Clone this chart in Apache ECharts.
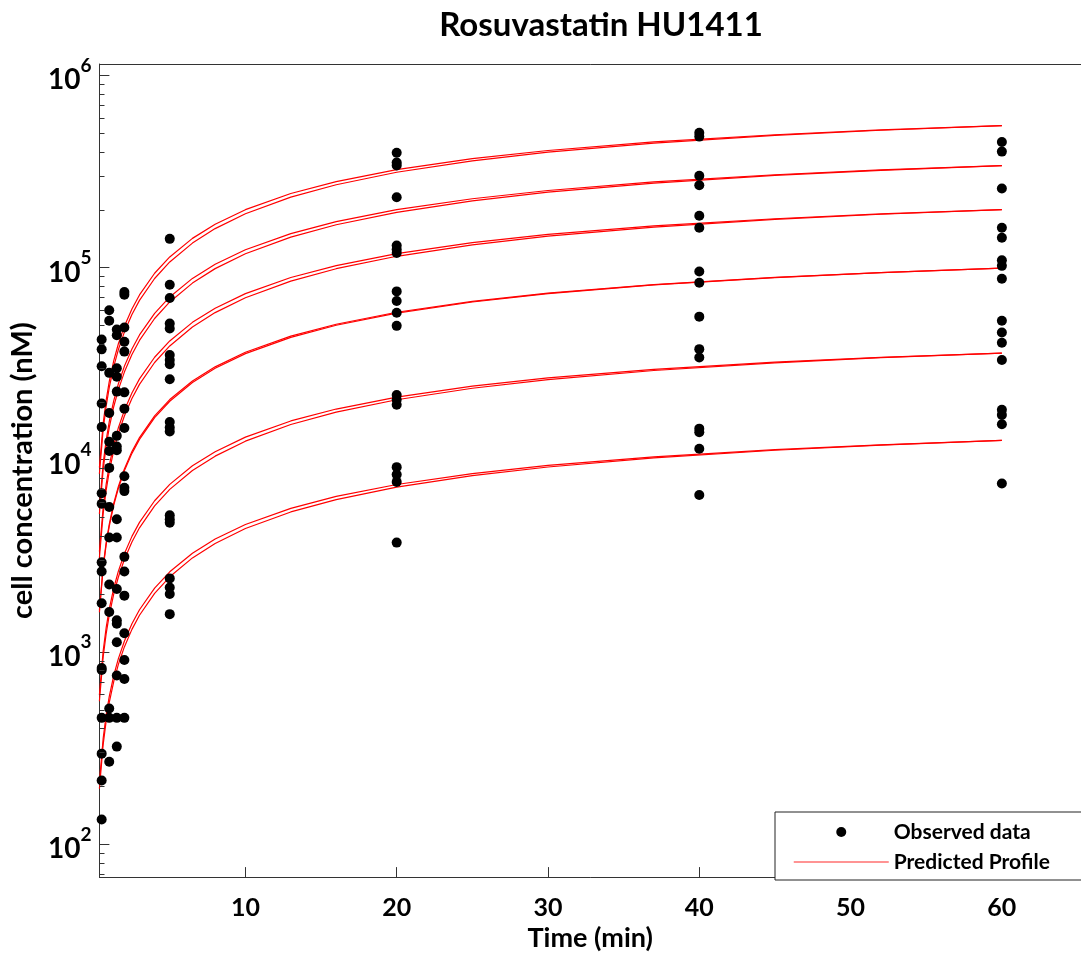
<!DOCTYPE html>
<html>
<head>
<meta charset="utf-8">
<title>Rosuvastatin HU1411</title>
<script src="https://cdn.jsdelivr.net/npm/echarts@6/dist/echarts.min.js"></script>
<style>
  html, body { margin: 0; padding: 0; background: #fff; }
  #chart { width: 1081px; height: 957px; }
</style>
</head>
<body>
<div id="chart"></div>
<script>
// Sampling times (min) of the observed cell concentrations
const obsTimes = [0.5, 1, 1.5, 2, 5, 20, 40, 60];

// Observed cell concentration (nM) at each sampling time
const obs05 = [42200, 37500, 30600, 19600, 14800, 6680, 5900, 2920, 2620, 1790, 824, 804, 453, 295, 214, 134];
const obs1  = [59900, 52800, 28300, 17500, 12400, 11100, 9060, 5670, 3930, 2240, 1610, 507, 453, 268];
const obs15 = [47600, 44400, 29900, 27000, 22600, 13300, 11700, 11200, 4900, 3930, 2120, 1460, 1400, 1120, 753, 453, 321];
const obs2  = [74600, 72200, 48700, 41100, 36500, 22400, 18400, 14600, 8200, 7140, 6860, 3120, 2620, 1960, 1250, 906, 722, 453];
const obs5  = [141000, 81300, 69400, 51100, 48100, 35000, 33000, 31400, 26200, 15700, 14700, 14000, 5130, 4890, 4700, 2410, 2160, 2000, 1570];
const obs20 = [396000, 352000, 340000, 232000, 130000, 124000, 119000, 75100, 67000, 58200, 49700, 21700, 20500, 19300, 9140, 8360, 7660, 3700];
const obs40 = [503000, 480000, 300000, 268000, 186000, 161000, 95300, 83300, 55500, 37600, 34000, 14500, 13900, 11400, 6540];
const obs60 = [450000, 401000, 258000, 161000, 143000, 109000, 102000, 87400, 52800, 45900, 40600, 33000, 18200, 17100, 15300, 7510];

// Time grid of the predicted profiles (min)
const profileTimes = [0.35, 0.6, 0.8, 1, 1.3, 1.6, 2, 2.5, 3, 4, 5, 6.5, 8, 10, 13, 16, 20, 25, 30, 37, 45, 52, 60];

// Predicted profiles, two runs per concentration level (nM)
const prof1a = [9090, 15460, 20490, 25450, 32790, 40000, 49410, 60870, 72000, 93330, 113500, 141800, 168000, 200000, 242700, 280000, 323100, 368400, 406500, 450400, 490900, 520000, 547800];
const prof1b = [8440, 14370, 19060, 23690, 30550, 37300, 46130, 56920, 67430, 87650, 106900, 134000, 159400, 190500, 232600, 269700, 313100, 359200, 398500, 444200, 487000, 518000, 547800];
const prof2a = [5630, 9570, 12680, 15750, 20300, 24760, 30590, 37680, 44570, 57770, 70260, 87770, 104000, 123800, 150200, 173300, 200000, 228000, 251600, 278800, 303900, 321900, 339100];
const prof2b = [5220, 8895, 11800, 14660, 18910, 23090, 28550, 35230, 41740, 54260, 66170, 82950, 98670, 117900, 144000, 166900, 193800, 222300, 246700, 275000, 301500, 320600, 339100];
const prof3a = [3322, 5651, 7489, 9302, 11980, 14620, 18060, 22250, 26320, 34110, 41480, 51830, 61400, 73100, 88710, 102300, 118100, 134700, 148600, 164600, 179400, 190100, 200200];
const prof3b = [3085, 5252, 6966, 8659, 11170, 13630, 16860, 20800, 24650, 32040, 39070, 48980, 58260, 69630, 85010, 98580, 114400, 131300, 145700, 162400, 178000, 189300, 200200];
const prof4a = [1645, 2798, 3709, 4606, 5935, 7240, 8943, 11020, 13030, 16890, 20540, 25670, 30410, 36200, 43930, 50680, 58480, 66680, 73580, 81520, 88850, 94120, 99150];
const prof4b = [1606, 2732, 3623, 4500, 5800, 7077, 8745, 10780, 12750, 16550, 20140, 25200, 29890, 35630, 43320, 50060, 57870, 66130, 73090, 81150, 88610, 94000, 99150];
const prof5a = [595, 1013, 1342, 1667, 2148, 2620, 3236, 3987, 4716, 6113, 7434, 9288, 11000, 13100, 15900, 18340, 21160, 24130, 26630, 29500, 32150, 34060, 35880];
const prof5b = [553, 942, 1248, 1551, 2001, 2443, 3021, 3728, 4417, 5741, 7001, 8780, 10430, 12480, 15240, 17670, 20500, 23530, 26100, 29100, 31890, 33930, 35880];
const prof6a = [209, 355, 471, 585, 754, 919, 1135, 1399, 1655, 2145, 2608, 3259, 3861, 4596, 5577, 6434, 7425, 8466, 9341, 10350, 11280, 11950, 12590];
const prof6b = [194, 330, 438, 544, 702, 857, 1060, 1308, 1550, 2014, 2456, 3081, 3663, 4379, 5344, 6197, 7194, 8255, 9156, 10210, 11190, 11900, 12590];

// Minor tick values of the log axis (2..9 x 10^k)
const minorTicks = [70, 80, 90,
  200, 300, 400, 500, 600, 700, 800, 900,
  2000, 3000, 4000, 5000, 6000, 7000, 8000, 9000,
  20000, 30000, 40000, 50000, 60000, 70000, 80000, 90000,
  200000, 300000, 400000, 500000, 600000, 700000, 800000, 900000];

const X_MIN = 0.35, X_MAX = 65.23;
const Y_MIN = 67.2, Y_MAX = 1.146e6;
const FONT = 'Lato';
const AXIS_COLOR = '#333';

const observedColumns = [obs05, obs1, obs15, obs2, obs5, obs20, obs40, obs60];
const observedData = [];
observedColumns.forEach((col, i) => col.forEach(v => observedData.push([obsTimes[i], v])));

const profiles = [prof1a, prof1b, prof2a, prof2b, prof3a, prof3b, prof4a, prof4b, prof5a, prof5b, prof6a, prof6b];
const profileSeries = profiles.map(p => ({
  name: 'Predicted Profile',
  type: 'line',
  data: profileTimes.map((t, i) => [t, p[i]]),
  symbol: 'none',
  showSymbol: false,
  smooth: false,
  lineStyle: { color: '#ff0000', width: 1.2 },
  itemStyle: { color: '#ff0000' },
  z: 2,
  silent: true
}));

const chart = echarts.init(document.getElementById('chart'), null, { renderer: 'canvas' });

chart.setOption({
  animation: false,
  backgroundColor: '#ffffff',
  title: {
    text: 'Rosuvastatin HU1411',
    left: 596,
    textAlign: 'center',
    top: 4,
    textStyle: { fontFamily: FONT, fontWeight: 'bold', fontSize: 33, color: '#000' }
  },
  grid: { left: 98, right: 0, top: 64, bottom: 76, containLabel: false },
  legend: {
    orient: 'vertical',
    left: 775,
    top: 812,
    padding: [9, 120, 7, 18],
    itemWidth: 95,
    itemHeight: 10,
    itemGap: 8,
    backgroundColor: '#fff',
    borderColor: '#222',
    borderWidth: 1,
    borderRadius: 0,
    textStyle: { fontFamily: FONT, fontWeight: 'bold', fontSize: 21, color: '#000', lineHeight: 22 },
    data: [
      { name: 'Observed data', icon: 'circle' },
      {
        name: 'Predicted Profile',
        itemStyle: { color: 'rgba(0,0,0,0)', borderColor: 'rgba(0,0,0,0)', borderWidth: 0, opacity: 0 },
        lineStyle: { color: '#ff6f6f', width: 1.5 }
      }
    ],
    selectedMode: false,
    z: 10
  },
  xAxis: [{
    type: 'value',
    min: X_MIN,
    max: X_MAX,
    position: 'bottom',
    name: 'Time (min)',
    nameLocation: 'middle',
    nameGap: 45,
    nameTextStyle: { fontFamily: FONT, fontWeight: 'bold', fontSize: 27, color: '#000' },
    axisLine: { show: true, lineStyle: { color: AXIS_COLOR, width: 1 } },
    axisTick: { show: true, inside: true, length: 10, lineStyle: { color: AXIS_COLOR } },
    axisLabel: {
      margin: 18,
      fontFamily: FONT, fontWeight: 'bold', fontSize: 25, color: '#000',
      showMinLabel: false, showMaxLabel: false,
      formatter: v => (v > 0 && Math.abs(v / 10 - Math.round(v / 10)) < 1e-9) ? String(v) : ''
    },
    splitLine: { show: false }
  }, {
    type: 'value',
    min: X_MIN,
    max: X_MAX,
    position: 'top',
    axisLine: { show: true, lineStyle: { color: AXIS_COLOR, width: 1 } },
    axisTick: { show: false },
    axisLabel: { show: false },
    splitLine: { show: false }
  }],
  yAxis: {
    type: 'log',
    logBase: 10,
    min: Y_MIN,
    max: Y_MAX,
    name: 'cell concentration (nM)',
    nameLocation: 'middle',
    nameRotate: 90,
    nameGap: 60,
    nameTextStyle: { fontFamily: FONT, fontWeight: 'bold', fontSize: 29, color: '#000' },
    axisLine: { show: true, lineStyle: { color: AXIS_COLOR, width: 1 } },
    axisTick: { show: true, inside: true, length: 10, lineStyle: { color: AXIS_COLOR } },
    axisLabel: {
      margin: 8,
      showMinLabel: false, showMaxLabel: false,
      formatter: v => {
        const e = Math.round(Math.log10(v));
        if (Math.abs(v - Math.pow(10, e)) > 1e-6 * v) return '';
        return '{b|10}{s|' + e + '}';
      },
      rich: {
        b: { fontFamily: FONT, fontWeight: 'bold', fontSize: 28, color: '#000', verticalAlign: 'bottom', lineHeight: 38 },
        s: { fontFamily: FONT, fontWeight: 'bold', fontSize: 19, color: '#000', verticalAlign: 'top', lineHeight: 38 }
      }
    },
    splitLine: { show: false }
  },
  series: [
    ...profileSeries,
    {
      name: 'Observed data',
      type: 'scatter',
      data: observedData,
      symbol: 'circle',
      symbolSize: 10,
      itemStyle: { color: '#000', opacity: 1 },
      z: 3,
      silent: true
    },
    {
      // minor ticks along the inside of the log axis
      name: 'minor ticks',
      type: 'custom',
      data: minorTicks.map(v => [X_MIN, v]),
      encode: { x: 0, y: 1 },
      clip: false,
      silent: true,
      z: 4,
      renderItem: (params, api) => {
        const p = api.coord([X_MIN, api.value(1)]);
        const x = Math.round(p[0]) + 0.5;
        const y = Math.round(p[1]) + 0.5;
        return {
          type: 'line',
          shape: { x1: x, y1: y, x2: x + 5, y2: y },
          style: { stroke: AXIS_COLOR, lineWidth: 1 }
        };
      }
    }
  ]
});
</script>
</body>
</html>
